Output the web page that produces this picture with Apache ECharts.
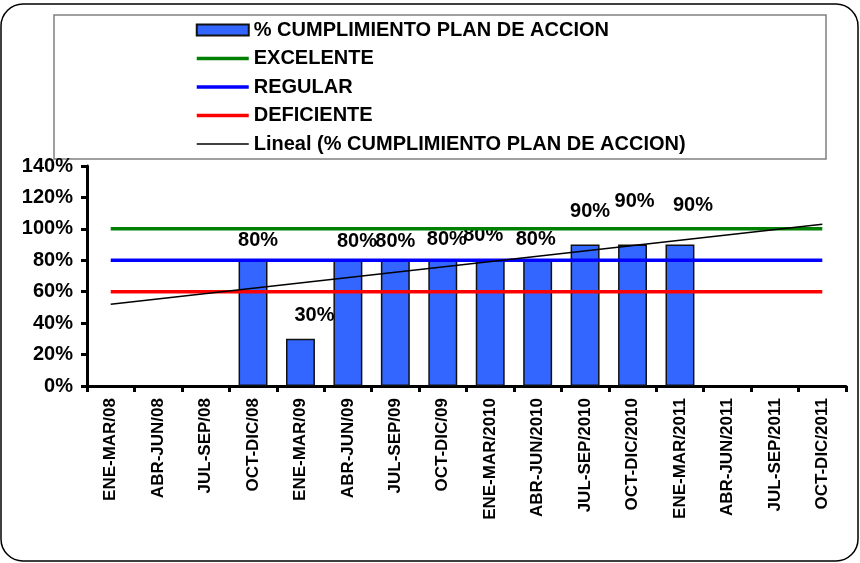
<!DOCTYPE html>
<html>
<head>
<meta charset="utf-8">
<script src="https://cdn.jsdelivr.net/npm/echarts@6/dist/echarts.min.js"></script>
<style>
  html, body { margin: 0; padding: 0; background: #fff; }
  #container { width: 860px; height: 563px; }
</style>
</head>
<body>
<div id="container"></div>
<script>
// trimestres
var categories = ['ENE-MAR/08', 'ABR-JUN/08', 'JUL-SEP/08', 'OCT-DIC/08', 'ENE-MAR/09', 'ABR-JUN/09',
  'JUL-SEP/09', 'OCT-DIC/09', 'ENE-MAR/2010', 'ABR-JUN/2010', 'JUL-SEP/2010', 'OCT-DIC/2010',
  'ENE-MAR/2011', 'ABR-JUN/2011', 'JUL-SEP/2011', 'OCT-DIC/2011'];
var cumplimiento = [null, null, null, 80, 30, 80, 80, 80, 80, 80, 90, 90, 90, null, null, null];
var excelente = [100, 100, 100, 100, 100, 100, 100, 100, 100, 100, 100, 100, 100, 100, 100, 100];
var regular = [80, 80, 80, 80, 80, 80, 80, 80, 80, 80, 80, 80, 80, 80, 80, 80];
var deficiente = [60, 60, 60, 60, 60, 60, 60, 60, 60, 60, 60, 60, 60, 60, 60, 60];
var lineal = [52, null, null, null, null, null, null, null, null, null, null, null, null, null, null, 103];
var yTicks = [0, 20, 40, 60, 80, 100, 120, 140];

// desplazamiento de las etiquetas (como quedan en el original)
var labelOffsets = [null, null, null, [5, -5], [14, -8], [9, -4], [0, -4], [4, -6], [-7, -10], [-2, -6],
  [5, -18], [2, -28], [13, -24], null, null, null];

var FONT = 'Liberation Sans';

var barData = cumplimiento.map(function (v, i) {
  if (v == null) return null;
  return { value: v, label: { offset: labelOffsets[i] || [0, 0] } };
});

// icono de linea sin punto en la leyenda
function lineLegend(name, color, width) {
  return { name: name, itemStyle: { opacity: 0 }, lineStyle: { color: color, width: width } };
}

var chart = echarts.init(document.getElementById('container'));
var option = {
  animation: false,
  backgroundColor: '#fff',
  textStyle: { fontFamily: FONT },
  graphic: [
    { type: 'rect', shape: { x: 1, y: 4, width: 857, height: 557, r: 22 },
      style: { fill: 'none', stroke: '#000', lineWidth: 1.5 }, z: -1 },
    { type: 'rect', shape: { x: 54, y: 15, width: 772, height: 144 },
      style: { fill: '#fff', stroke: '#808080', lineWidth: 1.5 }, z: -1 }
  ],
  legend: {
    orient: 'vertical',
    left: 190,
    top: 15,
    itemWidth: 52,
    itemHeight: 11,
    itemGap: 8.5,
    textStyle: { fontFamily: FONT, fontSize: 20, fontWeight: 'bold', color: '#000' },
    data: [
      { name: '% CUMPLIMIENTO PLAN DE ACCION', icon: 'rect' },
      lineLegend('EXCELENTE', '#008000', 3.5),
      lineLegend('REGULAR', '#0000FF', 3.5),
      lineLegend('DEFICIENTE', '#FF0000', 3.5),
      lineLegend('Lineal (% CUMPLIMIENTO PLAN DE ACCION)', '#000', 1.5)
    ]
  },
  grid: { left: 87, right: 14, top: 166, bottom: 177 },
  xAxis: {
    type: 'category',
    data: categories,
    axisLine: { lineStyle: { color: '#000', width: 3 } },
    axisTick: { show: true, length: 6, lineStyle: { color: '#000', width: 3 } },
    axisLabel: {
      rotate: 90, margin: 12, interval: 0,
      color: '#000', fontFamily: FONT, fontSize: 17, fontWeight: 'bold'
    },
    splitLine: { show: false }
  },
  yAxis: {
    type: 'value',
    min: yTicks[0],
    max: yTicks[yTicks.length - 1],
    interval: 20,
    axisLine: { show: true, lineStyle: { color: '#000', width: 3 } },
    axisTick: { show: true, length: 6, lineStyle: { color: '#000', width: 3 } },
    axisLabel: {
      formatter: '{value}%', margin: 14,
      color: '#000', fontFamily: FONT, fontSize: 20, fontWeight: 'bold'
    },
    splitLine: { show: false }
  },
  series: [
    {
      name: '% CUMPLIMIENTO PLAN DE ACCION',
      type: 'bar',
      data: barData,
      barWidth: '61%',
      itemStyle: { color: '#3366FF', borderColor: '#111', borderWidth: 1.5 },
      label: {
        show: true, position: 'top', formatter: '{c}%',
        color: '#000', fontFamily: FONT, fontSize: 20, fontWeight: 'bold'
      },
      z: 2
    },
    {
      name: 'EXCELENTE', type: 'line', data: excelente, symbol: 'none',
      lineStyle: { color: '#008000', width: 3.5 }, itemStyle: { color: '#008000' }, z: 3
    },
    {
      name: 'REGULAR', type: 'line', data: regular, symbol: 'none',
      lineStyle: { color: '#0000FF', width: 3.5 }, itemStyle: { color: '#0000FF' }, z: 3
    },
    {
      name: 'DEFICIENTE', type: 'line', data: deficiente, symbol: 'none',
      lineStyle: { color: '#FF0000', width: 3.5 }, itemStyle: { color: '#FF0000' }, z: 3
    },
    {
      name: 'Lineal (% CUMPLIMIENTO PLAN DE ACCION)', type: 'line', data: lineal,
      symbol: 'none', connectNulls: true,
      lineStyle: { color: '#000', width: 1.5 }, itemStyle: { color: '#000' }, z: 4
    }
  ]
};
chart.setOption(option);
</script>
</body>
</html>
